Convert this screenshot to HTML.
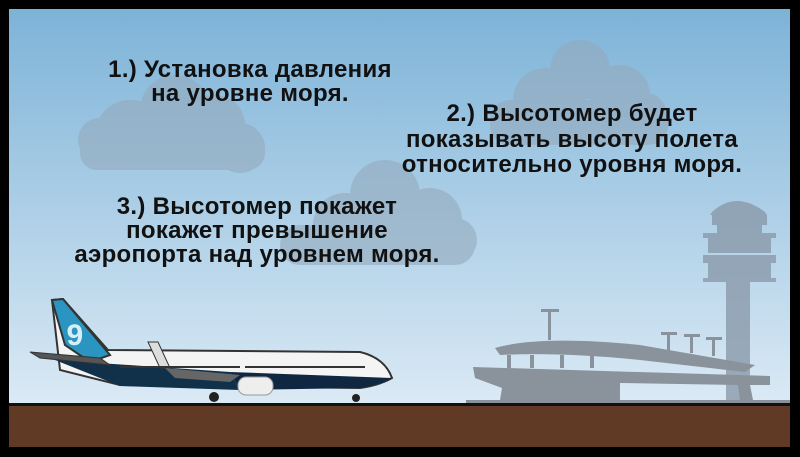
<!DOCTYPE html>
<html><head><meta charset="utf-8"><style>
html,body{margin:0;padding:0;background:#000;}
svg{display:block}
text{font-family:"Liberation Sans",sans-serif;font-weight:bold;fill:#111;font-size:24px;text-anchor:middle;letter-spacing:0.3px}
</style></head><body>
<svg width="800" height="457" viewBox="0 0 800 457" xmlns="http://www.w3.org/2000/svg">
<defs>
<linearGradient id="sky" x1="0" y1="0" x2="0" y2="1">
<stop offset="0" stop-color="#7db3d8"/><stop offset="1" stop-color="#dbeaf5"/>
</linearGradient>
</defs>
<rect width="800" height="457" fill="#000"/>
<rect x="9" y="9" width="781" height="396" fill="url(#sky)"/>
<!-- clouds -->
<g fill="#94aabd" opacity="0.6">
<g><circle cx="130" cy="135" r="35"/><circle cx="175" cy="110" r="35"/><circle cx="215" cy="125" r="30"/><circle cx="240" cy="148" r="25"/><circle cx="100" cy="140" r="22"/><rect x="80" y="135" width="185" height="35" rx="17"/></g>
<g><circle cx="580" cy="70" r="30"/><circle cx="545" cy="100" r="32"/><circle cx="620" cy="95" r="30"/><circle cx="645" cy="115" r="22"/><rect x="490" y="100" width="178" height="45" rx="20"/></g>
<g><circle cx="385" cy="195" r="35"/><circle cx="345" cy="225" r="32"/><circle cx="430" cy="220" r="32"/><circle cx="455" cy="240" r="22"/><rect x="280" y="225" width="195" height="40" rx="20"/></g>
</g>
<!-- tower -->
<g fill="#8a9aab" opacity="0.8">
<path d="M712 212 Q736 190 765 212 L767 215 L710 215Z"/>
<rect x="712" y="215" width="55" height="10"/>
<rect x="717" y="225" width="45" height="12"/>
<rect x="703" y="233" width="73" height="5"/>
<rect x="708" y="238" width="63" height="15"/>
<rect x="703" y="255" width="73" height="8"/>
<rect x="708" y="263" width="63" height="15"/>
<rect x="703" y="278" width="73" height="4"/>
<rect x="726" y="282" width="24" height="123"/>
</g>
<!-- terminal -->
<g fill="#8a939c">
<path d="M495 348 Q540 335 640 345 L755 365 L745 372 L640 360 Q560 352 500 355Z"/>
<path d="M473 367 L770 376 L770 385 L750 385 L753 400 L740 400 L738 385 L620 383 L620 400 L500 400 L502 388 L475 378Z"/>
<rect x="507" y="355" width="4" height="13"/><rect x="530" y="355" width="4" height="13"/><rect x="560" y="355" width="4" height="13"/><rect x="590" y="355" width="4" height="13"/>
<rect x="548" y="310" width="3" height="30"/><rect x="541" y="309" width="18" height="3"/>
<rect x="667" y="333" width="3" height="18"/><rect x="661" y="332" width="16" height="3"/>
<rect x="690" y="335" width="3" height="18"/><rect x="684" y="334" width="16" height="3"/>
<rect x="712" y="338" width="3" height="18"/><rect x="706" y="337" width="16" height="3"/>
<rect x="466" y="400" width="324" height="5"/>
</g>
<!-- ground -->
<rect x="9" y="405" width="781" height="42" fill="#603a24"/>
<rect x="9" y="403" width="781" height="3" fill="#111"/>
<!-- airplane -->
<g>
<path d="M52 300 L63 299 L108 350 L360 352 Q385 358 392 378 Q380 385 360 388 L120 385 L60 370 Z" fill="#f4f4f4" stroke="#333" stroke-width="2"/>
<path d="M52 300 L63 299 L110 355 L90 362 L65 345Z" fill="#2a95c0" stroke="#333" stroke-width="2"/>
<text x="75" y="345" style="font-size:30px;fill:#d8eef6">9</text>
<path d="M55 360 L230 372 L240 390 L120 386 Z" fill="#11304a"/>
<path d="M230 372 L392 378 Q380 385 360 388 L240 390Z" fill="#0f2740"/>
<path d="M30 352 L100 358 L110 365 L40 358Z" fill="#555" stroke="#333"/>
<path d="M148 342 L158 342 L170 368 L160 368Z" fill="#ddd" stroke="#333"/>
<path d="M165 368 L240 375 L230 382 L175 378Z" fill="#666"/>
<rect x="238" y="377" width="35" height="18" rx="8" fill="#eee" stroke="#999"/>
<circle cx="214" cy="397" r="5" fill="#222"/><circle cx="356" cy="398" r="4" fill="#222"/>
<g fill="#333"><rect x="120" y="366" width="120" height="2"/><rect x="245" y="366" width="120" height="2"/></g>
</g>
<!-- texts -->
<text x="250" y="77">1.) Установка давления</text>
<text x="250" y="101">на уровне моря.</text>
<text x="572" y="121">2.) Высотомер будет</text>
<text x="572" y="147">показывать высоту полета</text>
<text x="572" y="172">относительно уровня  моря.</text>
<text x="257" y="214">3.) Высотомер покажет</text>
<text x="257" y="238">покажет превышение</text>
<text x="257" y="262">аэропорта над уровнем моря.</text>
</svg>
</body></html>
